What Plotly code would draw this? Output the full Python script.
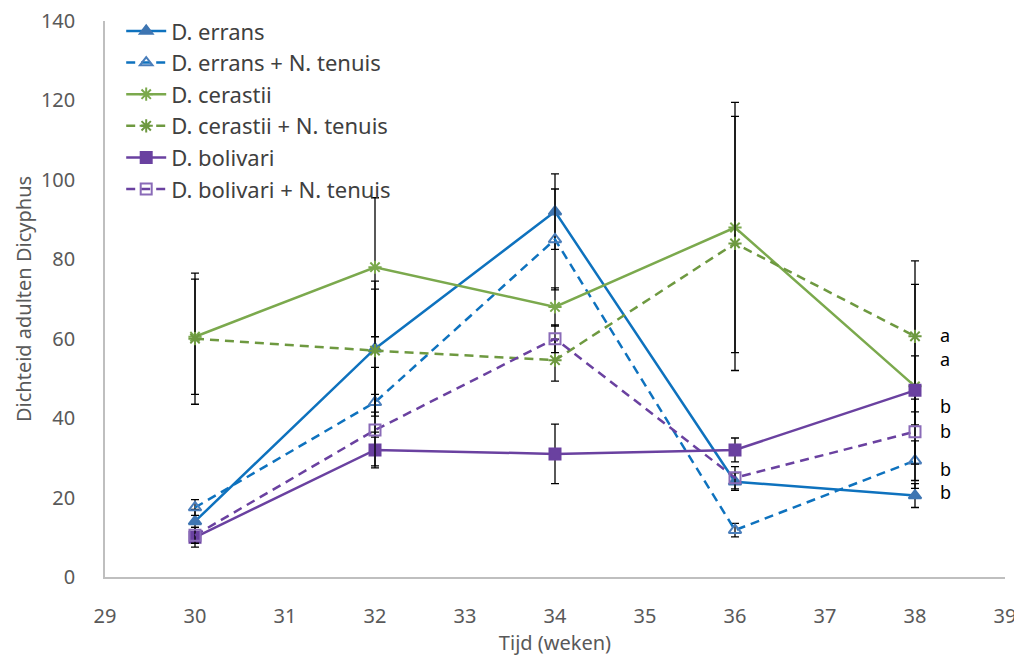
import plotly.graph_objects as go

weeks = [30, 32, 34, 36, 38]

errans = [14, 57.5, 92, 24, 20.5]
errans_err = [3, 17, 9.5, 2.2, 3]
errans_nt = [17.5, 44, 85, 11.8, 29.3]
errans_nt_err = [2, 8.8, 12.7, 1.7, 5]
cerastii = [60.5, 78, 68, 88, 48]
cerastii_err = [14.5, 17.5, 4.8, 31.5, 25.7]
cerastii_nt = [60, 57, 54.6, 84, 60.6]
cerastii_nt_err = [16.5, 15.5, 5.3, 32, 19]
bolivari = [10, 32, 31, 32, 47]
bolivari_err = [2.5, 4.5, 7.5, 3, 8.7]
bolivari_nt = [10.5, 37, 60, 25, 36.6]
bolivari_nt_err = [2, 9, 3.5, 2.8, 8.2]

letters = ["a", "a", "b", "b", "b", "b"]
letter_y = [61, 55, 43, 36.8, 27.3, 21.3]

names = ["D. errans", "D. errans + N. tenuis", "D. cerastii",
         "D. cerastii + N. tenuis", "D. bolivari", "D. bolivari + N. tenuis"]

series = [
    (errans, errans_err, "#0E72BE", "solid", "triangle-up", "#3E75B2", "#3E75B2"),
    (errans_nt, errans_nt_err, "#0E72BE", "9px,6px", "triangle-up-open", "#4A7EBB", "#4A7EBB"),
    (cerastii, cerastii_err, "#7BA94D", "solid", "asterisk-open", "#7BA94D", "#7BA94D"),
    (cerastii_nt, cerastii_nt_err, "#6E9940", "9px,6px", "asterisk-open", "#6E9940", "#6E9940"),
    (bolivari, bolivari_err, "#6A41A0", "solid", "square", "#6A41A0", "#6A41A0"),
    (bolivari_nt, bolivari_nt_err, "#6A41A0", "9px,6px", "square-open", "#8A6BB8", "#8A6BB8"),
]

fig = go.Figure()
for name, (vals, errs, lc, dash, sym, mc, mlc) in zip(names, series):
    fig.add_trace(go.Scatter(
        x=weeks, y=vals, name=name, mode="lines+markers",
        line=dict(color=lc, width=2.5, dash=dash),
        marker=dict(symbol=sym, size=11, color=mc,
                    line=dict(color=mlc, width=2)),
        error_y=dict(type="data", array=errs, visible=True,
                     color="black", thickness=1.3, width=4),
    ))

for t, yv in zip(letters, letter_y):
    fig.add_annotation(x=38.25, y=yv, text=t, showarrow=False,
                       xanchor="left", yanchor="middle",
                       font=dict(size=18, color="black"))

font = "Noto Sans, DejaVu Sans, sans-serif"
fig.update_layout(
    width=1014, height=653,
    paper_bgcolor="white", plot_bgcolor="white",
    margin=dict(l=97, r=17, t=13, b=84, autoexpand=False),
    font=dict(family=font, color="#595959", size=19),
    showlegend=True,
    legend=dict(x=0.018, y=1.0194, xanchor="left", yanchor="top",
                bgcolor="rgba(0,0,0,0)", font=dict(size=22, color="#404040"),
                itemwidth=40, tracegroupgap=0),
    xaxis=dict(range=[29, 39], dtick=1, showgrid=False, zeroline=False,
               showline=True, linecolor="#BFBFBF", linewidth=1.5,
               ticks="", ticklabelstandoff=20, automargin=False,
               ticklabeloverflow="allow", tickfont=dict(size=20),
               title=dict(text="Tijd (weken)", font=dict(size=20, color="#595959"), standoff=6)),
    yaxis=dict(range=[0, 140], dtick=20, showgrid=False, zeroline=False,
               showline=True, linecolor="#BFBFBF", linewidth=1.5,
               ticks="", ticklabelstandoff=24, automargin=False,
               ticklabeloverflow="allow", tickfont=dict(size=20),
               title=dict(text="Dichteid adulten Dicyphus", font=dict(size=20, color="#595959"), standoff=4)),
)

fig.write_html("out.html")
